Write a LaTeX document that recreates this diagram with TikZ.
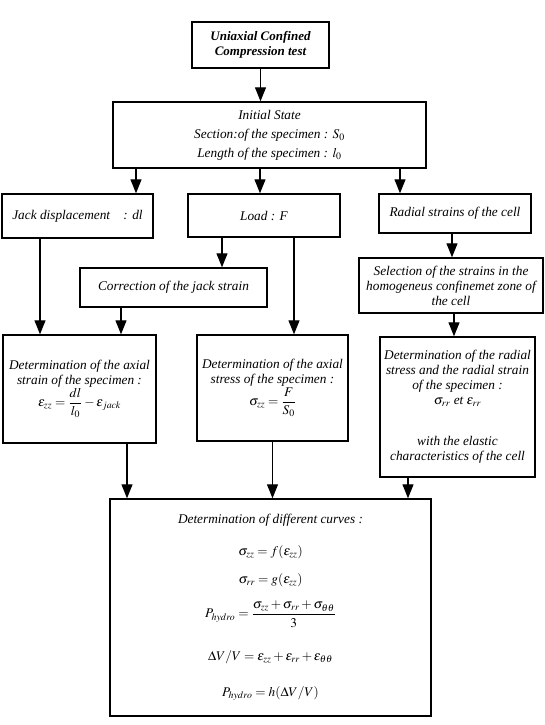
\documentclass[tikz,border=0pt]{standalone}
\usepackage{amsmath}
\usepackage{mathptmx}
\usepackage{fontspec}
\setmainfont{Liberation Serif}
\usetikzlibrary{arrows.meta}
\tikzset{>={Triangle[length=14pt,width=11pt]}}
\tikzset{
  box/.style={draw,line width=1.4pt,align=center,inner sep=2pt,font=\fontsize{13.3}{15}\selectfont\itshape},
  link/.style={line width=1.1pt}
}

\begin{document}
\begin{tikzpicture}[x=1pt,y=-1pt]
\useasboundingbox (0,0) rectangle (545,725);

% boxes
\node[box,font=\fontsize{13}{15}\selectfont\bfseries\itshape,minimum width=137pt,minimum height=46pt] (test) at (260.5,45) {Uniaxial Confined\\Compression test};
\node[box,font=\fontsize{13.3}{19}\selectfont\itshape,minimum width=313pt,minimum height=66pt] (init) at (269.5,135) {Initial State\\Section:of the specimen : $S_0$\\Length of the specimen : $l_0$};

\node[box,minimum width=151pt,minimum height=44pt] (jack) at (77.5,216) {Jack displacement\quad : dl};
\node[box,minimum width=152pt,minimum height=43pt] (load) at (264,215.5) {Load : F};
\node[box,minimum width=152pt,minimum height=39pt] (radial) at (455,213.5) {Radial strains of the cell};

\node[box,minimum width=187pt,minimum height=39pt] (corr) at (173.5,287.5) {Correction of the jack strain};
\node[box,minimum width=184pt,minimum height=55pt] (sel) at (451,285.5) {Selection of the strains in the\\homogeneus confinemet zone of\\the cell};

\node[box,minimum width=153pt,minimum height=108pt] (axstrain) at (79.5,389) {Determination of the axial\\strain of the specimen :\\$\varepsilon_{zz}=\dfrac{dl}{l_0}-\varepsilon_{jack}$};
\node[box,minimum width=151pt,minimum height=106pt] (axstress) at (272.5,388) {Determination of the axial\\stress of the specimen :\\$\sigma_{zz}=\dfrac{F}{S_0}$};
\node[box,minimum width=155pt,minimum height=140pt] (radstress) at (457.5,407) {Determination of the radial\\stress and the radial strain\\of the specimen :\\$\sigma_{rr}$ et $\varepsilon_{rr}$\\[26pt]with the elastic\\characteristics of the cell};

\node[box,minimum width=321pt,minimum height=217pt] (curves) at (270.5,607.5) {Determination of different curves :\\[17pt]
$\sigma_{zz}=f(\varepsilon_{zz})$\\[13pt]
$\sigma_{rr}=g(\varepsilon_{zz})$\\[13pt]
$P_{hydro}=\dfrac{\sigma_{zz}+\sigma_{rr}+\sigma_{\theta\theta}}{3}$\\[22pt]
$\Delta V/V=\varepsilon_{zz}+\varepsilon_{rr}+\varepsilon_{\theta\theta}$\\[21pt]
$P_{hydro}=h(\Delta V/V)$};

% connectors
\draw[link,->] (test.south) -- (test.south |- init.north);
\draw[link,->] ([xshift=-133.5pt]init.south) -- ([xshift=-133.5pt]init.south |- jack.north);
\draw[link,->] ([xshift=-9.5pt]init.south) -- ([xshift=-9.5pt]init.south |- load.north);
\draw[link,->] ([xshift=130.5pt]init.south) -- ([xshift=130.5pt]init.south |- radial.north);

\draw[link,->] ([xshift=-42pt]load.south) -- ([xshift=-42pt]load.south |- corr.north);
\draw[link,->] ([xshift=30pt]load.south) -- ([xshift=30pt]load.south |- axstress.north);
\draw[link,->] ([xshift=-37.5pt]jack.south) -- ([xshift=-37.5pt]jack.south |- axstrain.north);
\draw[link,->] ([xshift=-52.5pt]corr.south) -- ([xshift=-52.5pt]corr.south |- axstrain.north);
\draw[link,->] ([xshift=-3pt]radial.south) -- ([xshift=-3pt]radial.south |- sel.north);
\draw[link,->] ([xshift=3pt]sel.south) -- ([xshift=3pt]sel.south |- radstress.north);

\draw[link,->] ([xshift=47.5pt]axstrain.south) -- ([xshift=47.5pt]axstrain.south |- curves.north);
\draw[link,->] (axstress.south) -- (axstress.south |- curves.north);
\draw[link,->] ([xshift=-49.5pt]radstress.south) -- ([xshift=-49.5pt]radstress.south |- curves.north);
\end{tikzpicture}
\end{document}
